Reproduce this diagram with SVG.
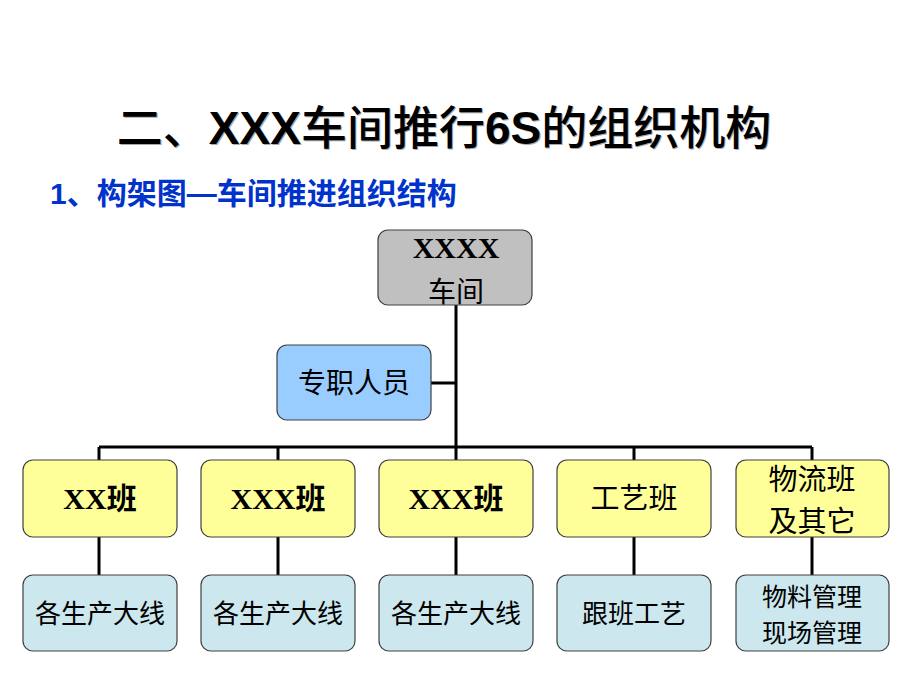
<svg xmlns="http://www.w3.org/2000/svg" width="920" height="690" viewBox="0 0 920 690">
<style>
.box{stroke:#404040;stroke-width:1.2}
.gray{fill:#C0C0C0}
.blue{fill:#99CCFF}
.yel{fill:#FFFF99}
.cyan{fill:#CCE8EE}
.t{font-family:"Liberation Serif","Noto Sans CJK SC",serif;fill:#000;text-anchor:middle}
.b{font-weight:bold}
.m{font-weight:500}
.conn{stroke:#000;stroke-width:3;fill:none}
.ttl{font-family:"Liberation Sans","Noto Sans CJK SC",sans-serif;font-size:46px;font-weight:bold;text-anchor:middle}
</style>
<rect width="920" height="690" fill="#fff"/>
<g id="title">
<text class="ttl" x="444" y="144" fill="#aaa" transform="translate(1.2,1.2)"><tspan class="m">二、</tspan>XXX<tspan class="m">车间推行</tspan>6S<tspan class="m">的组织机构</tspan></text>
<text class="ttl" x="444" y="144" fill="#000"><tspan class="m">二、</tspan>XXX<tspan class="m">车间推行</tspan>6S<tspan class="m">的组织机构</tspan></text>
</g>
<g id="subtitle">
<text x="50" y="204" font-family="Liberation Sans,'Noto Sans CJK SC',sans-serif" font-size="30" font-weight="bold" fill="#0033CC">1、构架图—车间推进组织结构</text>
</g>
<g id="connectors">
<path class="conn" d="M456 305 V447 M431 383 H456 M99 447 H812 M99 447 V460 M278 447 V460 M456 447 V460 M634 447 V460 M812 447 V460"/>
<path class="conn" d="M99 537 V575 M278 537 V575 M456 537 V575 M634 537 V575 M812 537 V575"/>
</g>
<g id="n-top">
<rect class="box gray" x="378" y="230" width="154" height="75" rx="10"/>
<text class="t b" x="456" y="258" font-size="30">XXXX</text>
<text class="t" x="456" y="302" font-size="28">车间</text>
</g>
<g id="n-staff">
<rect class="box blue" x="277" y="345" width="154" height="75" rx="10"/>
<text class="t" x="354" y="393" font-size="28">专职人员</text>
</g>
<g id="n-xx">
<rect class="box yel" x="23" y="460" width="154" height="77" rx="10"/>
<text class="t b" x="100" y="509" font-size="30">XX班</text>
</g>
<g id="n-xxx1">
<rect class="box yel" x="201" y="460" width="154" height="77" rx="10"/>
<text class="t b" x="278" y="509" font-size="30">XXX班</text>
</g>
<g id="n-xxx2">
<rect class="box yel" x="379" y="460" width="154" height="77" rx="10"/>
<text class="t b" x="456" y="509" font-size="30">XXX班</text>
</g>
<g id="n-gy">
<rect class="box yel" x="557" y="460" width="154" height="77" rx="10"/>
<text class="t" x="634" y="509" font-size="29">工艺班</text>
</g>
<g id="n-wl">
<rect class="box yel" x="736" y="460" width="153" height="77" rx="10"/>
<text class="t" x="812" y="490" font-size="29">物流班</text>
<text class="t" x="812" y="532" font-size="29">及其它</text>
</g>
<g id="s1">
<rect class="box cyan" x="23" y="575" width="154" height="76" rx="10"/>
<text class="t" x="100" y="623" font-size="26">各生产大线</text>
</g>
<g id="s2">
<rect class="box cyan" x="201" y="575" width="154" height="76" rx="10"/>
<text class="t" x="278" y="623" font-size="26">各生产大线</text>
</g>
<g id="s3">
<rect class="box cyan" x="379" y="575" width="154" height="76" rx="10"/>
<text class="t" x="456" y="623" font-size="26">各生产大线</text>
</g>
<g id="s4">
<rect class="box cyan" x="557" y="575" width="154" height="76" rx="10"/>
<text class="t" x="634" y="623" font-size="26">跟班工艺</text>
</g>
<g id="s5">
<rect class="box cyan" x="736" y="575" width="153" height="76" rx="10"/>
<text class="t" x="812" y="606" font-size="25">物料管理</text>
<text class="t" x="812" y="642" font-size="25">现场管理</text>
</g>
</svg>
